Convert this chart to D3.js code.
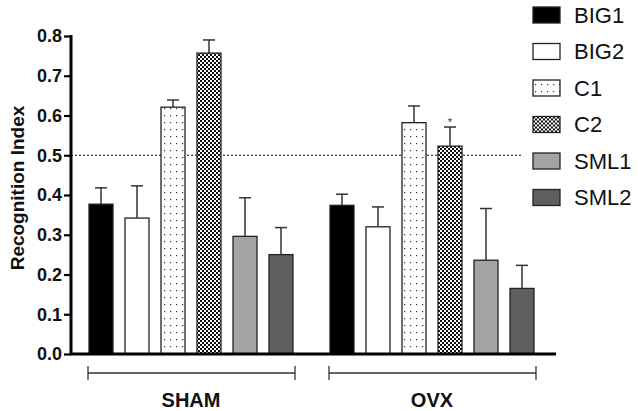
<!DOCTYPE html>
<html><head><meta charset="utf-8">
<script src="https://cdn.jsdelivr.net/npm/d3@7"></script>
<style>
body{margin:0;background:#fff;}
svg{display:block;font-family:Arial,"Liberation Sans",sans-serif;}
</style></head><body>
<svg id="c" width="638" height="411"></svg>
<script>
const groups = ["SHAM", "OVX"];
const series = ["BIG1", "BIG2", "C1", "C2", "SML1", "SML2"];
const shamValues = [0.377, 0.342, 0.621, 0.757, 0.296, 0.250];
const shamErrors = [0.041, 0.081, 0.018, 0.033, 0.097, 0.068];
const ovxValues = [0.374, 0.320, 0.582, 0.523, 0.236, 0.165];
const ovxErrors = [0.028, 0.050, 0.042, 0.048, 0.130, 0.058];
const yTicks = [0.0, 0.1, 0.2, 0.3, 0.4, 0.5, 0.6, 0.7, 0.8];
const chanceLevel = 0.5;
const starred = [{group: "OVX", series: "C2"}];

const data = groups.flatMap((g, gi) => series.map((s, si) => ({
  group: g, series: s,
  value: gi === 0 ? shamValues[si] : ovxValues[si],
  err: gi === 0 ? shamErrors[si] : ovxErrors[si]
})));

const svg = d3.select("#c");
const defs = svg.append("defs");
const p1 = defs.append("pattern").attr("id","dots").attr("patternUnits","userSpaceOnUse")
  .attr("width",6).attr("height",7);
p1.append("rect").attr("width",6).attr("height",7).attr("fill","#fff");
p1.append("rect").attr("x",2).attr("y",3).attr("width",1.2).attr("height",1.2).attr("fill","#333");
const p2 = defs.append("pattern").attr("id","check").attr("patternUnits","userSpaceOnUse")
  .attr("width",4).attr("height",4);
p2.append("rect").attr("width",4).attr("height",4).attr("fill","#fff");
p2.append("rect").attr("width",2).attr("height",2).attr("fill","#111");
p2.append("rect").attr("x",2).attr("y",2).attr("width",2).attr("height",2).attr("fill","#111");

const fills = {BIG1:"#000", BIG2:"#fff", C1:"url(#dots)", C2:"url(#check)", SML1:"#a3a3a3", SML2:"#5f5f5f"};

const y = d3.scaleLinear().domain([0, 0.8]).range([354, 36]);
const x0 = d3.scaleBand().domain(groups).range([89, 534]).paddingInner(0.1535).paddingOuter(0);
const x1 = d3.scaleBand().domain(series).range([0, x0.bandwidth()]).paddingInner(1/3).paddingOuter(0);

svg.append("line").attr("x1",71).attr("x2",522).attr("y1",y(chanceLevel)).attr("y2",y(chanceLevel))
  .attr("stroke","#000").attr("stroke-width",1).attr("stroke-dasharray","2,2");

const bars = svg.append("g").selectAll("g").data(data).join("g");
bars.append("rect")
  .attr("x", d => x0(d.group) + x1(d.series))
  .attr("y", d => y(d.value))
  .attr("width", x1.bandwidth())
  .attr("height", d => y(0) - y(d.value))
  .attr("fill", d => fills[d.series])
  .attr("stroke","#222").attr("stroke-width",1.3);
bars.append("line")
  .attr("x1", d => x0(d.group) + x1(d.series) + x1.bandwidth()/2)
  .attr("x2", d => x0(d.group) + x1(d.series) + x1.bandwidth()/2)
  .attr("y1", d => y(d.value)).attr("y2", d => y(d.value + d.err))
  .attr("stroke","#333").attr("stroke-width",1.5);
bars.append("line")
  .attr("x1", d => x0(d.group) + x1(d.series) + x1.bandwidth()/2 - 6)
  .attr("x2", d => x0(d.group) + x1(d.series) + x1.bandwidth()/2 + 6)
  .attr("y1", d => y(d.value + d.err)).attr("y2", d => y(d.value + d.err))
  .attr("stroke","#333").attr("stroke-width",1.5);

starred.forEach(s => {
  const d = data.find(e => e.group === s.group && e.series === s.series);
  svg.append("text").attr("x", x0(d.group) + x1(d.series) + x1.bandwidth()/2)
    .attr("y", y(d.value + d.err) - 1).attr("text-anchor","middle")
    .attr("font-size",11).attr("fill","#333").text("*");
});

const yAxis = d3.axisLeft(y).tickValues(yTicks).tickFormat(d3.format(".1f")).tickSize(7).tickPadding(2);
const ya = svg.append("g").attr("transform","translate(71,0)").call(yAxis);
ya.select(".domain").attr("stroke","#000").attr("stroke-width",3).attr("d", `M0,${y(0.8)-1}V${y(0)}`);
ya.selectAll(".tick line").attr("stroke","#000").attr("stroke-width",2.2);
ya.selectAll(".tick text").attr("font-size",18).attr("font-weight","bold").attr("fill","#111")
  .attr("font-family","Arial,'Liberation Sans',sans-serif");

svg.append("line").attr("x1",70).attr("x2",556).attr("y1",y(0)).attr("y2",y(0))
  .attr("stroke","#000").attr("stroke-width",3);

groups.forEach(g => {
  const a = x0(g) - 1, b = x0(g) + x0.bandwidth() + 2, yy = 373;
  const gg = svg.append("g").attr("stroke","#333").attr("stroke-width",1.3);
  gg.append("line").attr("x1",a).attr("x2",b).attr("y1",yy).attr("y2",yy);
  gg.append("line").attr("x1",a).attr("x2",a).attr("y1",yy-7).attr("y2",yy+7);
  gg.append("line").attr("x1",b).attr("x2",b).attr("y1",yy-7).attr("y2",yy+7);
  svg.append("text").attr("x", x0(g) + x0.bandwidth()/2).attr("y", 407)
    .attr("text-anchor","middle").attr("font-size",20).attr("font-weight","bold").attr("fill","#111").text(g);
});

svg.append("text").attr("transform","translate(24,188) rotate(-90)").attr("text-anchor","middle")
  .attr("font-size",19).attr("font-weight","bold").attr("fill","#111").text("Recognition Index");

const lg = svg.append("g").selectAll("g").data(series).join("g")
  .attr("transform", (d,i) => `translate(533,${15 + i*36.5})`);
lg.append("rect").attr("x",0).attr("y",-8).attr("width",27).attr("height",16)
  .attr("fill", d => fills[d]).attr("stroke","#222").attr("stroke-width",1.3);
lg.append("text").attr("x",41).attr("y",0).attr("dy","0.36em").attr("font-size",22)
  .attr("fill","#111").text(d => d);
</script>
</body></html>
